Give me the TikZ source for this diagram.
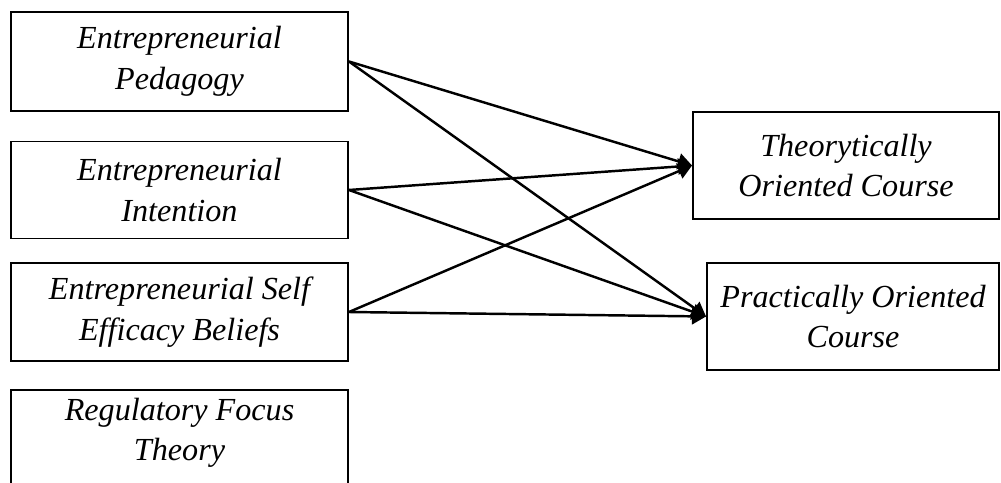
\documentclass[tikz,border=0pt]{standalone}
\usepackage{fontspec}
\setmainfont{Liberation Serif}
\usetikzlibrary{arrows.meta}
\begin{document}
\begin{tikzpicture}[x=0.02cm,y=-0.02cm,
  labeltext/.style={font=\fontsize{18.3}{23}\selectfont\itshape,align=center},
  concept/.style={draw,line width=1.1pt,inner sep=0pt,labeltext},
  link/.style={line width=1.4pt,-{Triangle[length=0.28cm,width=0.32cm]}}]
  \useasboundingbox (0,0) rectangle (1001,483);
  \clip (0,0) rectangle (1001,483);
  % independent variables
  \node[concept,minimum width=337*0.02cm,minimum height=99*0.02cm] (ped) at (179.5,61.5) {Entrepreneurial\\Pedagogy};
  \node[concept,minimum width=337*0.02cm,minimum height=97*0.02cm] (int) at (179.5,190) {Entrepreneurial\\Intention};
  \node[concept,minimum width=337*0.02cm,minimum height=98*0.02cm] (eff) at (179.5,312) {Entrepreneurial Self\\Efficacy Beliefs};
  \node[concept,minimum width=337*0.02cm,minimum height=100*0.02cm] (reg) at (179.5,440) {};
  \node[labeltext] (regtxt) at (179.5,433) {Regulatory Focus\\Theory};
  % outcome courses
  \node[concept,minimum width=306*0.02cm,minimum height=107*0.02cm] (theo) at (846,165.5) {Theorytically\\Oriented Course};
  \node[concept,minimum width=292*0.02cm,minimum height=107*0.02cm] (prac) at (853,316.5) {Practically Oriented\\Course};
  % paths
  \draw[link] (ped.east) -- (theo.west);
  \draw[link] (ped.east) -- (prac.west);
  \draw[link] (int.east) -- (theo.west);
  \draw[link] (int.east) -- (prac.west);
  \draw[link] (eff.east) -- (theo.west);
  \draw[link] (eff.east) -- (prac.west);
\end{tikzpicture}
\end{document}
